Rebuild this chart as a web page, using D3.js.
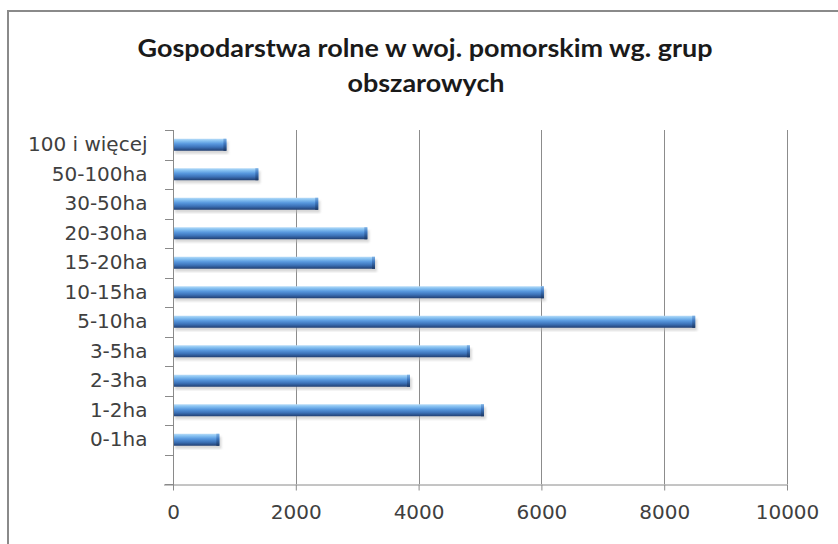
<!DOCTYPE html>
<html><head><meta charset="utf-8">
<script src="https://cdn.jsdelivr.net/npm/d3@7"></script>
<style>html,body{margin:0;padding:0;background:#fff;}svg{display:block;}</style>
</head><body>
<svg id="chart" width="838" height="544"></svg>
<script>
const categories = ["100 i więcej","50-100ha","30-50ha","20-30ha","15-20ha","10-15ha","5-10ha","3-5ha","2-3ha","1-2ha","0-1ha",""];
const values = [870, 1390, 2365, 3165, 3290, 6040, 8505, 4835, 3860, 5065, 755, null];
const xTicks = [0, 2000, 4000, 6000, 8000, 10000];
const titleLines = ["Gospodarstwa rolne w woj. pomorskim wg. grup", "obszarowych"];

const svg = d3.select("#chart");
const W = 838, H = 544;
svg.append("rect").attr("width", W).attr("height", H).attr("fill", "#fff");

// outer border (left + top)
svg.append("path").attr("d", "M8,544 V11 H838").attr("fill", "none").attr("stroke", "#8a8a8a").attr("stroke-width", 2);

const x = d3.scaleLinear().domain([0, 10000]).range([173, 787]);
const y = d3.scaleBand().domain(categories).range([130, 484]).padding(0);

const defs = svg.append("defs");
const g = defs.append("linearGradient").attr("id", "barGrad").attr("x1", 0).attr("y1", 0).attr("x2", 0).attr("y2", 1);
[[0, "#b8dcf8"], [0.18, "#86c1f1"], [0.42, "#5898de"], [0.7, "#3c72b8"], [1, "#213f72"]].forEach(([o, c]) =>
  g.append("stop").attr("offset", o).attr("stop-color", c));
const gc = defs.append("linearGradient").attr("id", "capGrad").attr("x1", 0).attr("y1", 0).attr("x2", 0).attr("y2", 1);
[[0, "#7fb2e4"], [0.4, "#3f78c0"], [1, "#1b3763"]].forEach(([o, c]) =>
  gc.append("stop").attr("offset", o).attr("stop-color", c));
defs.append("filter").attr("id", "blur").append("feGaussianBlur").attr("stdDeviation", 1.2);

// gridlines
svg.append("g").selectAll("line").data(xTicks.slice(1)).join("line")
  .attr("x1", d => Math.round(x(d)) + 0.5).attr("x2", d => Math.round(x(d)) + 0.5)
  .attr("y1", 130).attr("y2", 484)
  .attr("stroke", "#8c8c8c").attr("stroke-width", 1);

// bars
const barH = 12;
const data = categories.map((c, i) => ({c, v: values[i]})).filter(d => d.v != null);
const bars = svg.append("g");
bars.selectAll("rect.shadow").data(data).join("rect").attr("class", "shadow")
  .attr("x", x(0) + 2).attr("y", d => y(d.c) + y.bandwidth() / 2 - barH / 2 + 3)
  .attr("width", d => x(d.v) - x(0)).attr("height", barH)
  .attr("fill", "#b8b8b8").attr("opacity", 0.55).attr("filter", "url(#blur)");
bars.selectAll("rect.bar").data(data).join("rect").attr("class", "bar")
  .attr("x", x(0)).attr("y", d => y(d.c) + y.bandwidth() / 2 - barH / 2)
  .attr("width", d => x(d.v) - x(0)).attr("height", barH)
  .attr("fill", "url(#barGrad)");
bars.selectAll("rect.cap").data(data).join("rect").attr("class", "cap")
  .attr("x", d => x(d.v) - 3).attr("y", d => y(d.c) + y.bandwidth() / 2 - barH / 2)
  .attr("width", 3).attr("height", barH)
  .attr("fill", "url(#capGrad)");

// axes
const axisColor = "#8a8a8a";
const xAxis = svg.append("g").attr("transform", "translate(0,484.5)")
  .call(d3.axisBottom(x).tickValues(xTicks).tickSize(6).tickPadding(14).tickFormat(d3.format("d")));
xAxis.select(".domain").attr("stroke", axisColor).attr("d", "M164,0.5H787.5");
xAxis.selectAll(".tick line").attr("stroke", axisColor);
xAxis.selectAll(".tick text").attr("fill", "#404040")
  .style("font-family", "'DejaVu Sans', sans-serif").style("font-size", "20px");

const yAxis = svg.append("g").attr("transform", "translate(173.5,0)")
  .call(d3.axisLeft(y).tickSize(0).tickPadding(26));
yAxis.select(".domain").attr("stroke", axisColor).attr("d", "M0,130V490");
yAxis.selectAll(".tick text").attr("fill", "#404040")
  .style("font-family", "'DejaVu Sans', sans-serif").style("font-size", "20px");
// category boundary tick marks
const bounds = categories.map(c => y(c)).concat([y.range()[1]]);
svg.append("g").selectAll("line").data(bounds).join("line")
  .attr("x1", 165).attr("x2", 173.5)
  .attr("y1", d => Math.round(d) + 0.5).attr("y2", d => Math.round(d) + 0.5)
  .attr("stroke", axisColor);

// title
const tg = svg.append("g").attr("fill", "#1a1a1a")
  .style("font-family", "Lato, 'Open Sans', sans-serif").style("font-weight", "bold").style("font-size", "24px");
const t1 = tg.append("text").attr("x", 425).attr("y", 57).attr("text-anchor", "middle").text(titleLines[0]);
const t2 = tg.append("text").attr("x", 426).attr("y", 92).attr("text-anchor", "middle").text(titleLines[1]);
const n1 = t1.node().getComputedTextLength();
const ratio = 575 / n1;
t1.attr("textLength", 575).attr("lengthAdjust", "spacingAndGlyphs");
t2.attr("textLength", t2.node().getComputedTextLength() * ratio).attr("lengthAdjust", "spacingAndGlyphs");
</script>
</body></html>
